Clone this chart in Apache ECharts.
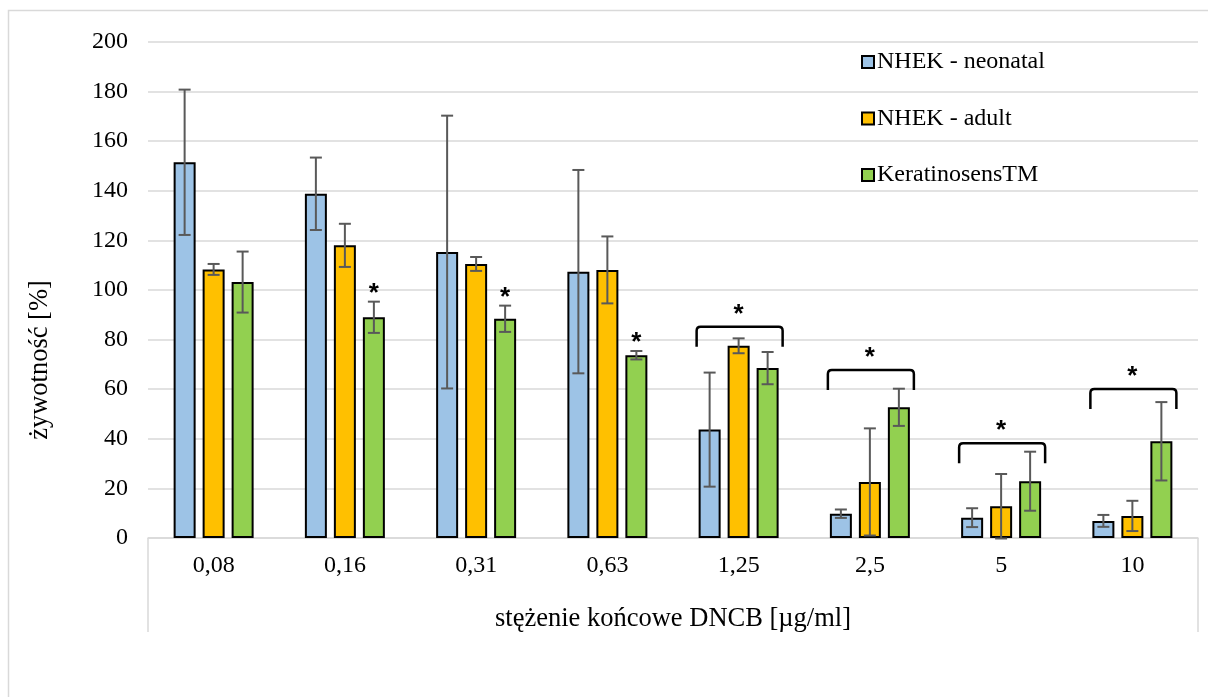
<!DOCTYPE html>
<html>
<head>
<meta charset="utf-8">
<script src="https://cdn.jsdelivr.net/npm/echarts@6/dist/echarts.min.js"></script>
<style>
  html, body { margin: 0; padding: 0; background: #fff; }
  #chart { width: 1208px; height: 697px; }
</style>
</head>
<body>
<div id="chart"></div>
<script>
// Stężenia DNCB (kategorie osi X)
const categories = ['0,08', '0,16', '0,31', '0,63', '1,25', '2,5', '5', '10'];

// Żywotność [%] – średnie i odchylenia standardowe
const neonatal = [151.5, 138.8, 115.3, 107.4, 43.7, 9.8, 8.2, 6.9];
const neonatalSd = [29.3, 14.6, 55.0, 41.0, 23.0, 1.7, 3.8, 2.4];
const adult = [108.3, 118.0, 110.5, 108.1, 77.5, 22.6, 12.8, 8.9];
const adultSd = [2.2, 8.7, 2.8, 13.5, 3.0, 21.6, 13.0, 6.1];
const keratinosens = [103.2, 89.0, 88.4, 73.7, 68.5, 52.7, 22.9, 39.0];
const keratinosensSd = [12.3, 6.3, 5.3, 1.7, 6.5, 7.5, 11.9, 15.8];

const seriesNames = ['NHEK - neonatal', 'NHEK - adult', 'KeratinosensTM'];

// Istotność: gwiazdka nad słupkiem KeratinoSens (indeksy kategorii)
const singleStars = [1, 2, 3];
// Istotność dla całej grupy: [kategoria, poziom klamry w %]
const groupStars = [[4, 85.2], [5, 67.7], [6, 38.2], [7, 60.1]];

// Oś Y
const yMin = 0, yMax = 200, yStep = 20;

const colors = ['#9DC3E6', '#FFC000', '#92D050'];
const BAR_W = 22, BAR_SPACING = 29;
const FONT = '"Liberation Serif", "Times New Roman", serif';

const chart = echarts.init(document.getElementById('chart'), null, { renderer: 'canvas' });

const means = [neonatal, adult, keratinosens];
const sds = [neonatalSd, adultSd, keratinosensSd];

function barSeries(i) {
  return {
    name: seriesNames[i],
    type: 'bar',
    data: means[i],
    barWidth: BAR_W,
    barGap: ((BAR_SPACING - BAR_W) / BAR_W * 100).toFixed(1) + '%',
    itemStyle: { color: colors[i], borderColor: '#000', borderWidth: 2 },
    emphasis: { disabled: true },
    z: 2
  };
}

function errorSeries(i) {
  return {
    type: 'custom',
    name: seriesNames[i] + ' SD',
    data: means[i].map((m, k) => [k, m - sds[i][k], m + sds[i][k]]),
    encode: { x: 0, y: [1, 2] },
    renderItem: function (params, api) {
      const k = api.value(0);
      const lo = api.coord([k, api.value(1)]);
      const hi = api.coord([k, api.value(2)]);
      const x = lo[0] + (i - 1) * BAR_SPACING;
      const cap = 6;
      const style = { stroke: '#595959', lineWidth: 2 };
      return {
        type: 'group',
        children: [
          { type: 'line', shape: { x1: x, y1: lo[1], x2: x, y2: hi[1] }, style },
          { type: 'line', shape: { x1: x - cap, y1: lo[1], x2: x + cap, y2: lo[1] }, style },
          { type: 'line', shape: { x1: x - cap, y1: hi[1], x2: x + cap, y2: hi[1] }, style }
        ]
      };
    },
    silent: true,
    z: 3
  };
}

const starStyle = { fill: '#000', font: 'bold 26px "Liberation Sans", Arial, sans-serif', align: 'center', verticalAlign: 'middle' };

const singleStarSeries = {
  type: 'custom',
  name: 'stars',
  data: singleStars.map(k => [k, keratinosens[k] + keratinosensSd[k]]),
  encode: { x: 0, y: 1 },
  renderItem: function (params, api) {
    const p = api.coord([api.value(0), api.value(1)]);
    return {
      type: 'text',
      style: Object.assign({ text: '*', x: p[0] + BAR_SPACING, y: p[1] - 8 }, starStyle)
    };
  },
  silent: true,
  z: 4
};

const bracketSeries = {
  type: 'custom',
  name: 'brackets',
  data: groupStars,
  encode: { x: 0, y: 1 },
  renderItem: function (params, api) {
    const p = api.coord([api.value(0), api.value(1)]);
    const x1 = p[0] - 42, x2 = p[0] + 44, y = p[1], drop = 20, r = 4;
    return {
      type: 'group',
      children: [
        {
          type: 'path',
          shape: {
            pathData: `M${x1} ${y + drop} L${x1} ${y + r} Q${x1} ${y} ${x1 + r} ${y} L${x2 - r} ${y} Q${x2} ${y} ${x2} ${y + r} L${x2} ${y + drop}`
          },
          style: { stroke: '#000', lineWidth: 2.5, fill: null }
        },
        {
          type: 'text',
          style: Object.assign({ text: '*', x: p[0], y: y - 12 }, starStyle)
        }
      ]
    };
  },
  silent: true,
  z: 4
};

const option = {
  backgroundColor: '#fff',
  animation: false,
  textStyle: { fontFamily: FONT },
  grid: { left: 148, right: 10, top: 42, bottom: 159 },
  legend: {
    data: seriesNames,
    orient: 'vertical',
    left: 856,
    top: 45,
    itemWidth: 12,
    itemHeight: 12,
    itemGap: 32.5,
    icon: 'rect',
    textStyle: { fontFamily: FONT, fontSize: 24, color: '#000', padding: [0, 0, 0, -2] },
    selectedMode: false
  },
  xAxis: {
    type: 'category',
    data: categories,
    axisTick: { show: false },
    axisLine: { lineStyle: { color: '#d9d9d9', width: 1.5 } },
    axisLabel: { fontFamily: FONT, fontSize: 24, color: '#000', margin: 16 },
    name: 'stężenie końcowe DNCB [µg/ml]',
    nameLocation: 'middle',
    nameGap: 68,
    nameTextStyle: { fontFamily: FONT, fontSize: 26.5, color: '#000' }
  },
  yAxis: {
    type: 'value',
    min: yMin,
    max: yMax,
    interval: yStep,
    axisLine: { show: false },
    axisTick: { show: false },
    axisLabel: { fontFamily: FONT, fontSize: 24, color: '#000', margin: 20 },
    splitLine: { lineStyle: { color: '#d9d9d9', width: 1.5 } }
  },
  graphic: [
    { type: 'rect', shape: { x: 8.5, y: 10.5, width: 1220, height: 720 }, style: { fill: null, stroke: '#d9d9d9', lineWidth: 1.5 }, silent: true, z: -1 },
    { type: 'line', shape: { x1: 148, y1: 538, x2: 148, y2: 632 }, style: { stroke: '#d9d9d9', lineWidth: 1.5 }, silent: true },
    { type: 'line', shape: { x1: 1198, y1: 538, x2: 1198, y2: 632 }, style: { stroke: '#d9d9d9', lineWidth: 1.5 }, silent: true },
    {
      type: 'text', x: 40, y: 360, rotation: Math.PI / 2,
      style: { text: 'żywotność [%]', font: '26.5px ' + FONT, fill: '#000', align: 'center', verticalAlign: 'middle' },
      silent: true
    }
  ],
  series: [
    barSeries(0), barSeries(1), barSeries(2),
    errorSeries(0), errorSeries(1), errorSeries(2),
    singleStarSeries, bracketSeries
  ]
};

chart.setOption(option);
</script>
</body>
</html>
